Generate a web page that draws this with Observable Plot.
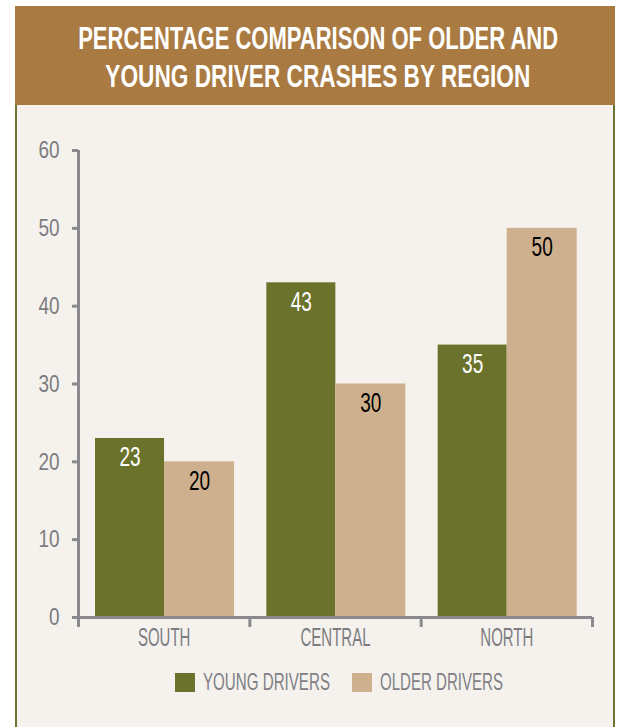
<!DOCTYPE html>
<html><head><meta charset="utf-8">
<script src="https://cdn.jsdelivr.net/npm/d3@7"></script>
<script src="https://cdn.jsdelivr.net/npm/@observablehq/plot@0.6"></script>
<style>
html,body{margin:0;padding:0;background:#fff;}
#wrap{position:relative;width:618px;height:727px;overflow:hidden;font-family:"Liberation Sans",Arial,sans-serif;}
#header{position:absolute;left:15px;top:6px;width:600px;height:99px;background:#a97a41;}
.tl{position:absolute;left:-282px;width:1200px;text-align:center;color:#fff;font-weight:bold;font-size:31px;line-height:38px;}
.tl span{display:inline-block;white-space:nowrap;transform-origin:center;}
#panel{position:absolute;left:15px;top:105px;width:596px;height:640px;background:#f5f2ed;border-left:2px solid #6b7530;border-right:2px solid #6b7530;}
#chart{position:absolute;left:0;top:105px;}
.leg{position:absolute;top:670px;font-size:24px;line-height:24px;color:#808085;white-space:nowrap;}
.sw{position:absolute;top:673px;width:20px;height:19px;}
.leg span{display:inline-block;transform-origin:left center;}
</style></head>
<body>
<div id="wrap">
  <div id="header"></div>
  <div class="tl" style="top:20px"><span id="t1">PERCENTAGE COMPARISON OF OLDER AND</span></div>
  <div class="tl" style="top:58px"><span id="t2">YOUNG DRIVER CRASHES BY REGION</span></div>
  <div id="panel"></div>
  <div id="chart"></div>
</div>
<script>
const regions = ["SOUTH", "CENTRAL", "NORTH"];
const series = ["YOUNG DRIVERS", "OLDER DRIVERS"];
const youngValues = [23, 43, 35];
const olderValues = [20, 30, 50];
const yTicks = [0, 10, 20, 30, 40, 50, 60];
const seriesColors = ["#6b722c", "#cfb08e"];

const data = regions.flatMap((r, i) => [
  {region: r, idx: i, series: series[0], value: youngValues[i]},
  {region: r, idx: i, series: series[1], value: olderValues[i]}
]);
const young = data.filter(d => d.series === series[0]);
const older = data.filter(d => d.series === series[1]);
const axisColor = "#8a8a8e";
const textColor = "#7c7c81";

const plot = Plot.plot({
  width: 618, height: 570,
  marginLeft: 78, marginRight: 26, marginTop: 45, marginBottom: 58,
  style: {background: "transparent", fontFamily: "'Liberation Sans', Arial, sans-serif", color: textColor, overflow: "visible"},
  x: {domain: [0, regions.length], axis: null, label: null},
  y: {domain: [0, 60], axis: null, label: null},
  color: {domain: series, range: seriesColors},
  marks: [
    Plot.rectY(young, {x1: "idx", x2: d => d.idx + 1, y1: 0, y2: "value", fill: "series", insetLeft: 17, insetRight: 85.3}),
    Plot.rectY(older, {x1: "idx", x2: d => d.idx + 1, y1: 0, y2: "value", fill: "series", insetLeft: 86, insetRight: 15.3}),
    Plot.ruleX([0], {y1: 0, y2: 60, stroke: axisColor, strokeWidth: 3}),
    Plot.ruleY([0], {stroke: axisColor, strokeWidth: 3}),
    Plot.axisY({ticks: yTicks, tickSize: 6, tickPadding: 13, fontSize: 24, stroke: axisColor, strokeWidth: 3, label: null}),
    Plot.axisX({ticks: d3.range(regions.length + 1), tickSize: 10, tickFormat: () => "", stroke: axisColor, strokeWidth: 3, label: null}),
    Plot.axisX({ticks: regions.map((_, i) => i + 0.5), tickFormat: v => regions[Math.floor(v)], tickSize: 0, tickPadding: 11, fontSize: 25, label: null}),
    Plot.text(young, {x: "idx", y: "value", text: d => String(d.value), dx: 51.5, dy: 19, fill: "#ffffff", fontSize: 28}),
    Plot.text(older, {x: "idx", y: "value", text: d => String(d.value), dx: 121, dy: 19, fill: "#000000", fontSize: 28})
  ]
});
document.getElementById("chart").appendChild(plot);

function condense(sel, k) {
  plot.querySelectorAll(sel).forEach(t => {
    const w = t.getComputedTextLength();
    if (w > 0) { t.setAttribute("textLength", w * k); t.setAttribute("lengthAdjust", "spacingAndGlyphs"); }
  });
}
condense('g[aria-label="y-axis tick label"] text', 0.79);
condense('g[aria-label="x-axis tick label"] text', 0.6);
condense('g[aria-label="text"] text', 0.68);

function fit(el, target) {
  const w = el.getBoundingClientRect().width;
  el.style.transform = `scaleX(${target / w})`;
}
fit(document.getElementById("t1"), 480);
fit(document.getElementById("t2"), 425);

// legend
const wrap = document.getElementById("wrap");
const legendPos = [{sw: 175, tx: 203, w: 127}, {sw: 352, tx: 380, w: 123}];
series.forEach((s, i) => {
  const sw = document.createElement("div");
  sw.className = "sw"; sw.style.left = legendPos[i].sw + "px"; sw.style.background = seriesColors[i];
  wrap.appendChild(sw);
  const lab = document.createElement("div");
  lab.className = "leg"; lab.style.left = legendPos[i].tx + "px";
  const sp = document.createElement("span"); sp.textContent = s;
  lab.appendChild(sp); wrap.appendChild(lab);
  fit(sp, legendPos[i].w);
});
</script>
</body></html>
